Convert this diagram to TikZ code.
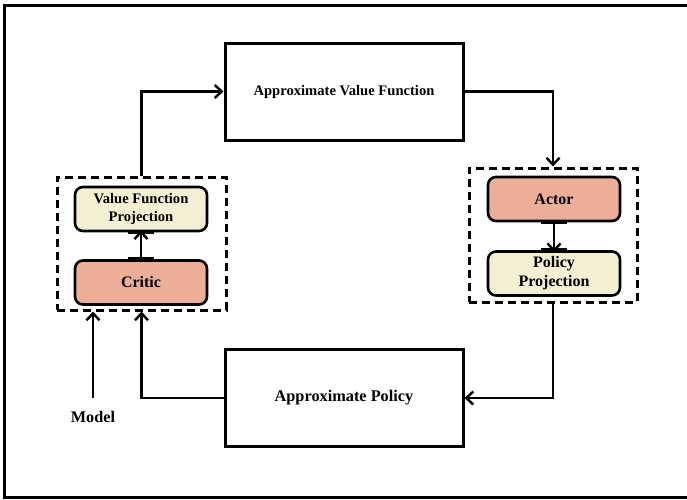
\documentclass[tikz,border=0pt]{standalone}
\usepackage{fontspec}
\setmainfont{Liberation Serif}
\usetikzlibrary{arrows.meta}
\definecolor{salmon}{RGB}{236,174,151}
\definecolor{cream}{RGB}{243,239,211}
\tikzset{
  bigbox/.style={draw, line width=3pt, fill=white, minimum width=238pt, minimum height=97pt, inner sep=0pt, font=\fontsize{14.6}{17}\selectfont\bfseries},
  groupbox/.style={draw, dash pattern=on 8pt off 5pt, line width=3pt, minimum width=169pt, minimum height=133pt, inner sep=0pt},
  critbox/.style={draw, line width=2.6pt, rounded corners=8pt, fill=salmon, minimum width=132pt, minimum height=44pt, inner sep=0pt, align=center, font=\fontsize{16}{19}\selectfont\bfseries},
  projbox/.style={draw, line width=2.6pt, rounded corners=8pt, fill=cream, minimum width=132pt, minimum height=44pt, inner sep=0pt, align=center},
  link/.style={line width=2.6pt, -{Straight Barb[length=7pt, width=13pt, line width=2.4pt]}},
  bar/.style={line width=4pt},
  frame/.style={line width=3pt}
}
\begin{document}
\begin{tikzpicture}[x=1pt, y=-1pt]
\useasboundingbox (0,0) rectangle (687,499);
% outer frame (open on the right)
\draw[frame] (687,5) -- (4,5) -- (4,497.3) -- (687,497.3);

% main blocks
\node[bigbox] (avf) at (344,91.5) {Approximate Value Function};
\node[bigbox, font=\fontsize{16.3}{19}\selectfont\bfseries] (ap) at (344,398) {Approximate Policy};

% critic group
\node[groupbox] (cg) at (141.5,243.5) {};
\node[projbox, font=\fontsize{14.6}{18}\selectfont\bfseries] (vfp) at (141,209) {Value Function\\Projection};
\node[critbox] (critic) at (141,282.5) {Critic};

% actor group
\node[groupbox, minimum width=168pt, minimum height=134pt] (ag) at (553,235) {};
\node[critbox] (actor) at (554,199) {Actor};
\node[projbox, font=\fontsize{16}{19}\selectfont\bfseries] (pp) at (554,273.5) {Policy\\Projection};

% model input
\node[font=\fontsize{16.2}{19}\selectfont\bfseries] (model) at (93,417) {Model};
\coordinate (mstart) at (93,398);

% loop connectors
\draw[link] (cg.north) |- (avf.west);
\draw[link] (avf.east) -| (ag.north);
\draw[link] (ag.south) |- (ap.east);
\draw[link] (ap.west) -| (cg.south);
\draw[link] (mstart) -- (mstart |- cg.south);

% inner connectors with end bars
\draw[link] (critic.north) -- ([yshift=2pt]vfp.south);
\draw[bar] ([xshift=-13pt]critic.north) -- ([xshift=13pt]critic.north);
\draw[bar] ([xshift=-13pt]vfp.south) -- ([xshift=13pt]vfp.south);
\draw[link] (actor.south) -- ([yshift=-2pt]pp.north);
\draw[bar] ([xshift=-13pt]actor.south) -- ([xshift=13pt]actor.south);
\draw[bar] ([xshift=-13pt]pp.north) -- ([xshift=13pt]pp.north);
\end{tikzpicture}
\end{document}
